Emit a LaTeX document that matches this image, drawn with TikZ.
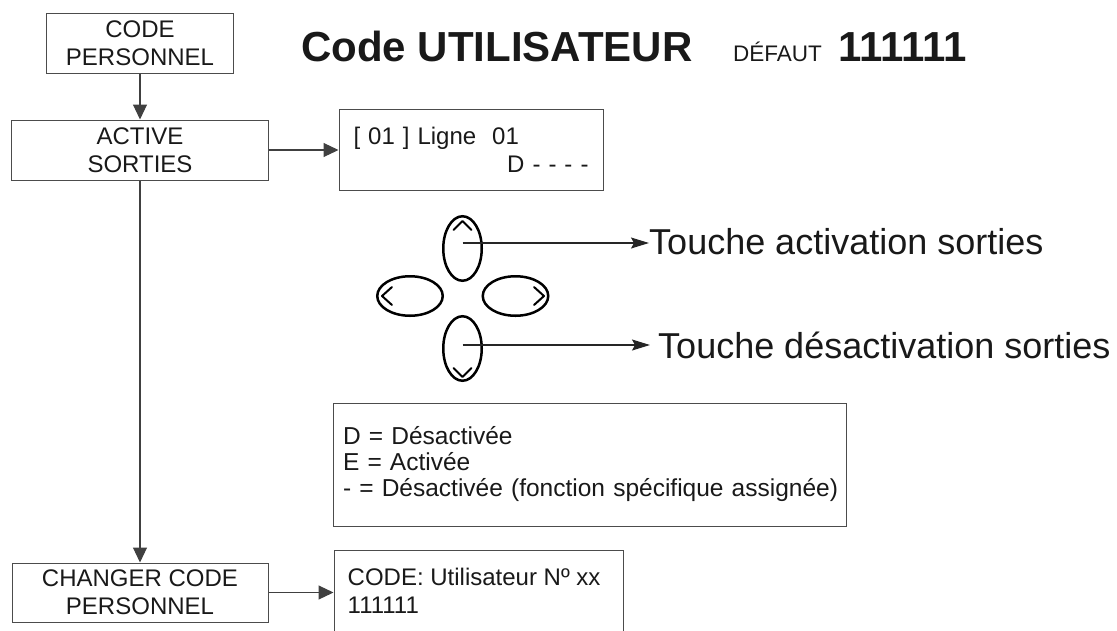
\documentclass[tikz,border=0pt]{standalone}
\usepackage{fontspec}
\setmainfont{Liberation Sans}
\usetikzlibrary{arrows.meta,shapes.geometric,calc}

\begin{document}
\begin{tikzpicture}[x=1pt, y=-1pt, >={Triangle[length=15pt,width=14pt]},
  every node/.style={text=black!90},
  menubox/.style={draw=black!70, line width=1pt, align=center, inner sep=0pt,
    font=\fontsize{24}{28}\selectfont},
  key/.style={draw=black, line width=2.5pt, ellipse, inner sep=0pt},
  flow/.style={->, draw=black!75, line width=1.1pt},
  touche/.style={-{Stealth[length=18pt,width=11pt,inset=3pt]}, draw=black!85, line width=1.2pt},
  chev/.style={line width=2pt, line cap=round, line join=round}]
  %% Frame (pixel units, y down)
  \path[use as bounding box] (0,0) rectangle (1117,630);
  \clip (0,0) rectangle (1117,630);

  %% Title
  \node[anchor=base west, inner sep=0pt, font=\bfseries\fontsize{42}{50}\selectfont]
    (title) at (301,61) {Code UTILISATEUR};
  \node[anchor=base west, inner sep=0pt, font=\fontsize{22.5}{27}\selectfont]
    (defaut) at (733,61) {DÉFAUT};
  \node[anchor=base west, inner sep=0pt, font=\bfseries\fontsize{42}{50}\selectfont]
    (defcode) at (838,61) {111111};

  %% Menu column
  \node[menubox, minimum width=187pt, minimum height=60pt] (codeperso) at (140,43) {CODE\\PERSONNEL};
  \node[menubox, minimum width=257pt, minimum height=60pt] (active) at (140,150) {ACTIVE\\SORTIES};
  \node[menubox, minimum width=256pt, minimum height=59pt] (changer) at (140,592.5) {CHANGER CODE\\PERSONNEL};

  %% Display boxes
  \node[menubox, align=left, text width=235pt, inner xsep=14.5pt, minimum height=81pt]
    (ligne) at (471,150) {[ 01 ] Ligne\ \ 01\\\hspace*{\fill}D - - - -};
  \node[menubox, align=left, text width=493pt, inner xsep=10pt, minimum height=123pt,
    font=\fontsize{24.5}{26}\selectfont]
    (legend) at (589.5,464.5) {D = Désactivée\\E = Activée\\\mbox{- = Désactivée (fonction spécifique assignée)}};
  \node[draw=black!70, line width=1pt, inner sep=0pt, minimum width=289pt, minimum height=110pt,
    anchor=north] (codeutil) at (478.5,550) {};
  \node[anchor=north west, inner sep=0pt, align=left, font=\fontsize{24}{28}\selectfont]
    (codeutiltxt) at ($(codeutil.north west)+(14,17.5)$) {CODE: Utilisateur Nº xx\\111111};

  %% Flow
  \draw[flow] (codeperso) -- (active);
  \draw[flow] (active) -- (changer);
  \draw[flow] (active.east) -- (ligne.west);
  \draw[flow] (changer.east) -- (changer.east -| codeutil.west);

  %% Keypad
  \node[key, minimum width=38.5pt, minimum height=64.5pt] (keyup) at (462.5,248.5) {};
  \node[key, minimum width=38.5pt, minimum height=64.5pt] (keydown) at (462.5,348.5) {};
  \node[key, minimum width=65.5pt, minimum height=39.5pt] (keyleft) at (410,296) {};
  \node[key, minimum width=65.5pt, minimum height=39.5pt] (keyright) at (515.5,296) {};
  \draw[chev] (keyup.center) ++(-9,-18.5) -- ++(9,-9) -- ++(9,9);
  \draw[chev] (keydown.center) ++(-9,19.5) -- ++(9,9) -- ++(9,-9);
  \draw[chev] (keyleft.center) ++(-18,-9) -- ++(-10,9) -- ++(10,9);
  \draw[chev] (keyright.center) ++(18.5,-9) -- ++(10,9) -- ++(-10,9);

  %% Key labels
  \node[anchor=base west, inner sep=0pt, font=\fontsize{36}{42}\selectfont]
    (tact) at (649,254) {Touche activation sorties};
  \node[anchor=base west, inner sep=0pt, font=\fontsize{36}{42}\selectfont]
    (tdesact) at (658,358) {Touche désactivation sorties};
  \coordinate (upkey) at ([yshift=5.5pt]keyup.center);
  \coordinate (downkey) at ([yshift=3.5pt]keydown.center);
  \draw[touche] (upkey) -- (upkey -| tact.west);
  \draw[touche] (downkey) -- ($(downkey -| tdesact.west)+(-8,0)$);
\end{tikzpicture}
\end{document}
